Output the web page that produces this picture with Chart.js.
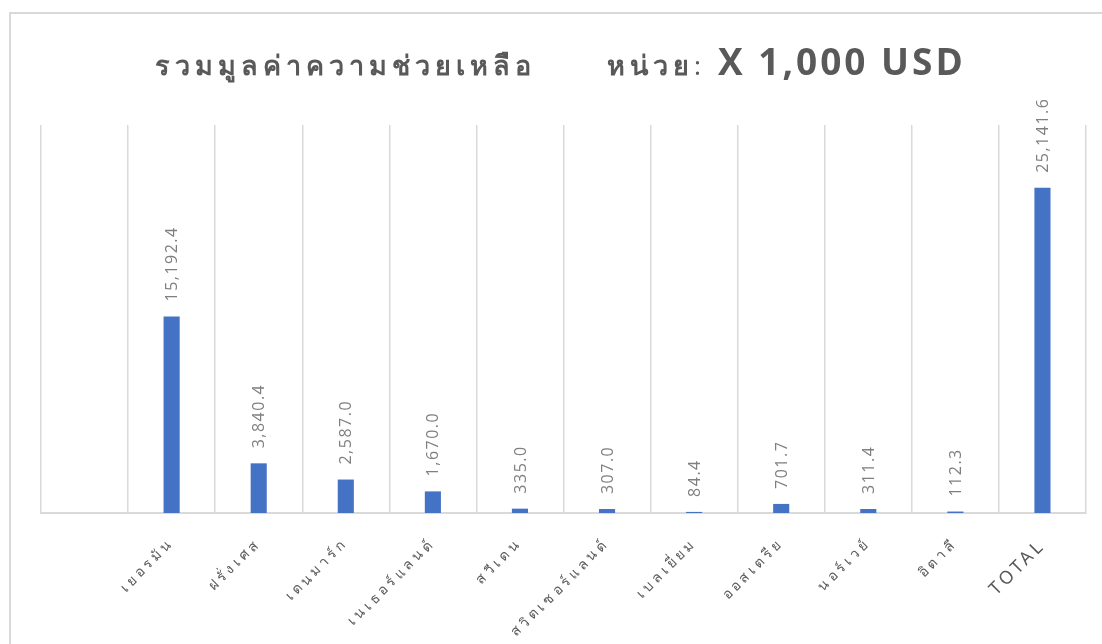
<!DOCTYPE html>
<html lang="th">
<head>
    <meta charset="UTF-8">
    <title>รวมมูลค่าความช่วยเหลือ</title>
    <script src="https://cdn.jsdelivr.net/npm/chart.js"></script>
    <style>
        html, body { margin: 0; padding: 0; background: #fff; }
        #wrap { position: relative; width: 1102px; height: 644px; overflow: hidden; }
        #frame { position: absolute; left: 9px; top: 12px; width: 1200px; height: 700px;
                 border-left: 2px solid #d9d9d9; border-top: 2px solid #d9d9d9; }
        canvas { position: absolute; left: 0; top: 0; }
    </style>
</head>
<body>
<div id="wrap">
    <div id="frame"></div>
    <canvas id="grafica" width="1102" height="644"></canvas>
</div>
<script>
// categorias (la primera columna esta vacia en el original)
const paises = ['', 'เยอรมัน', 'ฝรั่งเศส', 'เดนมาร์ก', 'เนเธอร์แลนด์', 'สวีเดน', 'สวิตเซอร์แลนด์',
                'เบลเยี่ยม', 'ออสเตรีย', 'นอร์เวย์', 'อิตาลี', 'TOTAL'];
const montos = [null, 15192.4, 3840.4, 2587.0, 1670.0, 335.0, 307.0, 84.4, 701.7, 311.4, 112.3, 25141.6];
const ejeMax = 30000;

const fmt = v => v.toLocaleString('en-US', { minimumFractionDigits: 1, maximumFractionDigits: 1 });

// etiquetas de valor giradas + titulo
const extras = {
    id: 'extras',
    beforeDraw(chart) {
        chart.ctx.letterSpacing = '3.5px';
    },
    afterDatasetsDraw(chart) {
        const ctx = chart.ctx;
        const meta = chart.getDatasetMeta(0);
        ctx.save();
        ctx.letterSpacing = '1.5px';
        ctx.font = '16px "Open Sans", "DejaVu Sans", sans-serif';
        ctx.fillStyle = '#7f7f7f';
        ctx.textAlign = 'left';
        ctx.textBaseline = 'middle';
        meta.data.forEach((bar, i) => {
            if (montos[i] == null) return;
            ctx.save();
            ctx.translate(bar.x + 1, bar.y - 15);
            ctx.rotate(-Math.PI / 2);
            ctx.fillText(fmt(montos[i]), 0, 0);
            ctx.restore();
        });
        ctx.restore();
    },
    afterDraw(chart) {
        const ctx = chart.ctx;
        ctx.save();
        ctx.fillStyle = '#595959';
        ctx.textBaseline = 'alphabetic';
        ctx.textAlign = 'left';
        ctx.letterSpacing = '5px';
        ctx.font = 'bold 27px "Noto Sans", sans-serif';
        ctx.fillText('รวมมูลค่าความช่วยเหลือ', 155, 75);
        ctx.fillText('หน่วย', 607, 75);
        const w = ctx.measureText('หน่วย').width;
        ctx.letterSpacing = '0px';
        ctx.font = '26px "Noto Sans", sans-serif';
        ctx.fillText(':', 607 + w, 75);
        ctx.letterSpacing = '3px';
        ctx.font = 'bold 37px "Open Sans", sans-serif';
        ctx.fillText('X 1,000 USD', 718, 75);
        ctx.restore();
    }
};

new Chart(document.getElementById('grafica'), {
    type: 'bar',
    data: {
        labels: paises,
        datasets: [{
            data: montos,
            backgroundColor: '#4472c4',
            borderWidth: 0,
            barPercentage: 0.185,
            categoryPercentage: 1.0
        }]
    },
    options: {
        responsive: false,
        animation: false,
        layout: { padding: { left: 41, right: 16, top: 125, bottom: 0 } },
        plugins: { legend: { display: false }, tooltip: { enabled: false }, title: { display: false } },
        scales: {
            x: {
                grid: { color: '#d9d9d9', lineWidth: 1.5, drawTicks: false, offset: true },
                border: { color: '#d9d9d9', width: 2 },
                ticks: {
                    minRotation: 45, maxRotation: 45, autoSkip: false, padding: 22,
                    color: '#595959',
                    font: c => ({
                        size: paises[c.index] === 'TOTAL' ? 18 : 14,
                        family: '"Noto Sans", "DejaVu Sans", sans-serif'
                    })
                },
                afterFit(scale) { scale.height = 131; }
            },
            y: { display: false, min: 0, max: ejeMax }
        }
    },
    plugins: [extras]
});
</script>
</body>
</html>
